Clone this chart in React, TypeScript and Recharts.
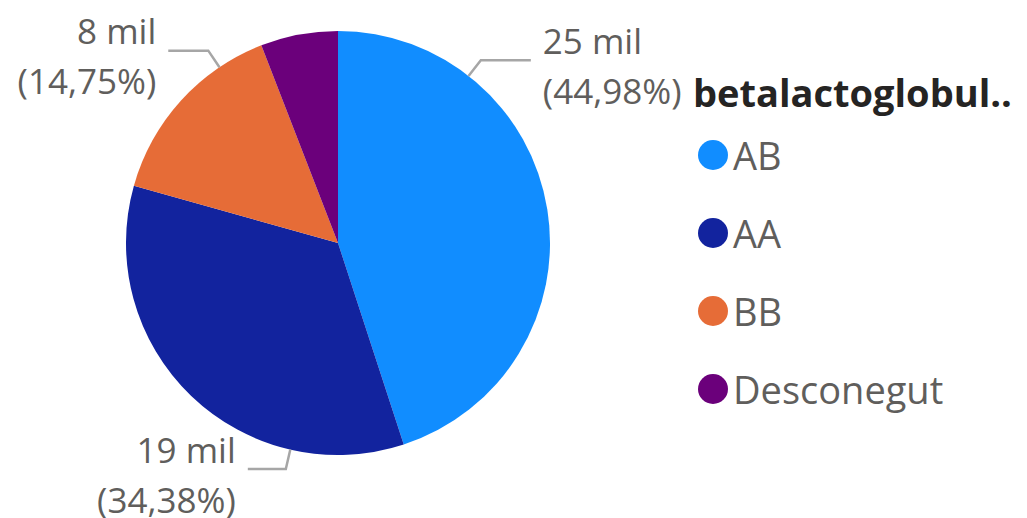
import { PieChart, Pie, Cell, Legend } from "recharts";

const categories = ["AB", "AA", "BB", "Desconegut"];
const values = [25010, 19115, 8201, 3275];
const valueLabels = ["25 mil", "19 mil", "8 mil", ""];
const percentLabels = ["(44,98%)", "(34,38%)", "(14,75%)", ""];

const COLORS = ["#118DFF", "#12239E", "#E66C37", "#6B007B"];
const LEGEND_TITLE = "betalactoglobul..";

// where Power BI put each leader line: angle (deg, ccw from 3 o'clock) and
// length of the horizontal arm; slices without an entry get no label
const LABEL_LAYOUT: Record<string, { angle: number; arm: number }> = {
  AB: { angle: 52, arm: 50 },
  AA: { angle: -103, arm: 38 },
  BB: { angle: 124, arm: 40 },
};

const data = categories.map((name, i) => ({
  name,
  value: values[i],
  valueLabel: valueLabels[i],
  percentLabel: percentLabels[i],
}));

const FONT = "'Open Sans', 'Noto Sans', sans-serif";
const RAD = Math.PI / 180;

function renderLabel(props: any) {
  const { cx, cy, outerRadius, index } = props;
  const d = data[index];
  const lay = LABEL_LAYOUT[d.name];
  if (!lay) return null;
  const cos = Math.cos(lay.angle * RAD);
  const sin = Math.sin(lay.angle * RAD);
  const sx = cx + outerRadius * cos;
  const sy = cy - outerRadius * sin;
  const ex = cx + (outerRadius + 20) * cos;
  const ey = cy - (outerRadius + 20) * sin;
  const dir = cos >= 0 ? 1 : -1;
  const hx = ex + dir * lay.arm;
  const tx = hx + dir * 12;
  const anchor = dir > 0 ? "start" : "end";
  return (
    <g key={`lbl-${index}`}>
      <polyline
        points={`${sx},${sy} ${ex},${ey} ${hx},${ey}`}
        fill="none"
        stroke="#A6A6A6"
        strokeWidth={2.5}
      />
      <text
        x={tx}
        y={ey - 20}
        textAnchor={anchor}
        dominantBaseline="central"
        fill="#605E5C"
        fontSize={35}
        fontFamily={FONT}
      >
        {d.valueLabel}
      </text>
      <text
        x={tx}
        y={ey + 30}
        textAnchor={anchor}
        dominantBaseline="central"
        fill="#605E5C"
        fontSize={35}
        fontFamily={FONT}
      >
        {d.percentLabel}
      </text>
    </g>
  );
}

function renderLegend() {
  return (
    <div style={{ fontFamily: FONT }}>
      <div
        style={{
          fontWeight: 700,
          fontSize: 38,
          color: "#252423",
          height: 48,
          lineHeight: "48px",
          whiteSpace: "nowrap",
        }}
      >
        {LEGEND_TITLE}
      </div>
      <div style={{ paddingLeft: 5, paddingTop: 0 }}>
        {categories.map((name, i) => (
          <div
            key={name}
            style={{
              display: "flex",
              alignItems: "center",
              height: 78,
            }}
          >
            <span
              style={{
                width: 30,
                height: 30,
                borderRadius: "50%",
                background: COLORS[i],
                marginRight: 5,
                display: "inline-block",
                flexShrink: 0,
              }}
            />
            <span style={{ fontSize: 38, color: "#605E5C", lineHeight: "40px" }}>{name}</span>
          </div>
        ))}
      </div>
    </div>
  );
}

export default function App() {
  return (
    <div style={{ position: "absolute", left: 0, top: 0, background: "#fff" }}>
      <PieChart width={1027} height={518} margin={{ top: 0, right: 0, bottom: 0, left: 0 }}>
        <Pie
          data={data}
          dataKey="value"
          nameKey="name"
          cx={338}
          cy={243}
          outerRadius={212}
          startAngle={90}
          endAngle={-270}
          stroke="none"
          label={renderLabel}
          labelLine={false}
          isAnimationActive={false}
        >
          {data.map((entry, index) => (
            <Cell key={`cell-${index}`} fill={COLORS[index % COLORS.length]} />
          ))}
        </Pie>
        <Legend
          content={renderLegend}
          layout="vertical"
          verticalAlign="top"
          align="right"
          wrapperStyle={{ left: 693, top: 68, width: 334 }}
        />
      </PieChart>
    </div>
  );
}
